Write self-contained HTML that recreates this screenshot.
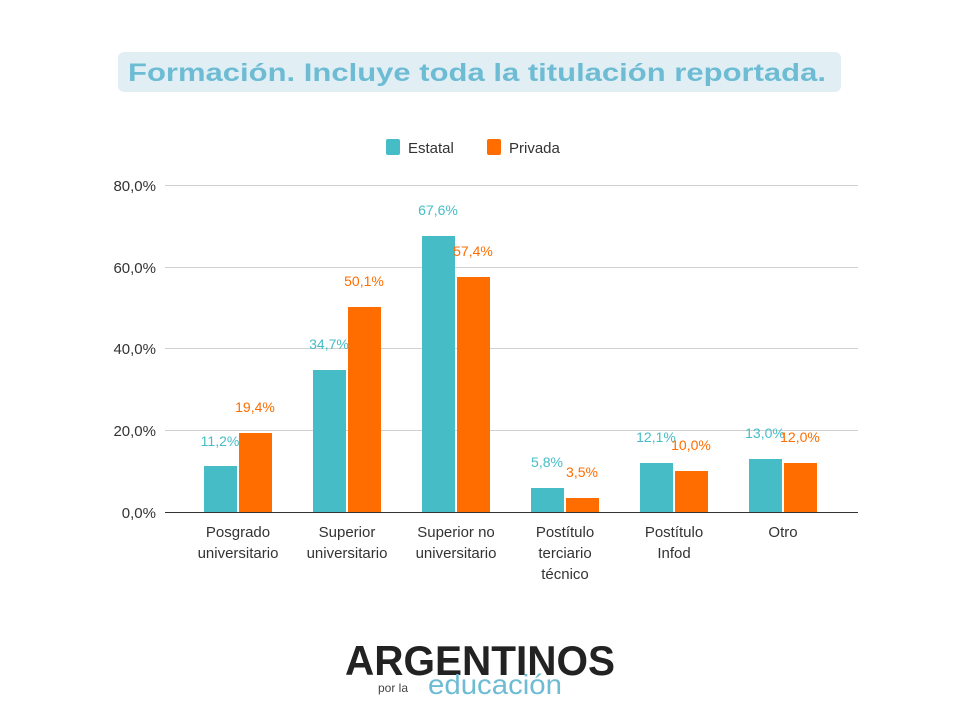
<!DOCTYPE html>
<html><head><meta charset="utf-8"><style>
body{margin:0;background:#fff;width:960px;height:720px;overflow:hidden;font-family:"Liberation Sans",sans-serif}
</style></head><body>
<svg width="960" height="720" xmlns="http://www.w3.org/2000/svg" font-family="Liberation Sans, sans-serif">
<rect x="118" y="52" width="723" height="40" rx="6" fill="#e1eff5"/>
<text x="128" y="81" font-size="25" font-weight="bold" fill="#6dbcd4" textLength="698" lengthAdjust="spacingAndGlyphs">Formación. Incluye toda la titulación reportada.</text>
<rect x="386" y="139" width="14" height="16" rx="2" fill="#46bdc6"/>
<text x="408" y="153" font-size="15" fill="#333">Estatal</text>
<rect x="487" y="139" width="14" height="16" rx="2" fill="#ff6d01"/>
<text x="509" y="153" font-size="15" fill="#333">Privada</text>
<g stroke="#d0d0d0" stroke-width="1">
<line x1="165" x2="858" y1="185.5" y2="185.5"/><line x1="165" x2="858" y1="267.5" y2="267.5"/><line x1="165" x2="858" y1="348.5" y2="348.5"/><line x1="165" x2="858" y1="430.5" y2="430.5"/>
</g>
<line x1="165" x2="858" y1="512.5" y2="512.5" stroke="#333"/>
<g font-size="15" fill="#333" text-anchor="end">
<text x="156" y="191">80,0%</text><text x="156" y="273">60,0%</text><text x="156" y="354">40,0%</text><text x="156" y="436">20,0%</text><text x="156" y="518">0,0%</text>
</g>
<g fill="#46bdc6">
<rect x="204" y="466" width="33" height="46"/>
<rect x="313" y="370" width="33" height="142"/>
<rect x="422" y="236" width="33" height="276"/>
<rect x="531" y="488" width="33" height="24"/>
<rect x="640" y="463" width="33" height="49"/>
<rect x="749" y="459" width="33" height="53"/>
</g>
<g fill="#ff6d01">
<rect x="239" y="433" width="33" height="79"/>
<rect x="348" y="307" width="33" height="205"/>
<rect x="457" y="277" width="33" height="235"/>
<rect x="566" y="498" width="33" height="14"/>
<rect x="675" y="471" width="33" height="41"/>
<rect x="784" y="463" width="33" height="49"/>
</g>
<g font-size="14" text-anchor="middle" fill="#46bdc6">
<text x="220" y="446">11,2%</text><text x="329" y="349">34,7%</text><text x="438" y="215">67,6%</text><text x="547" y="467">5,8%</text><text x="656" y="442">12,1%</text><text x="765" y="438">13,0%</text>
</g>
<g font-size="14" text-anchor="middle" fill="#ff6d01">
<text x="255" y="412">19,4%</text><text x="364" y="286">50,1%</text><text x="473" y="256">57,4%</text><text x="582" y="477">3,5%</text><text x="691" y="450">10,0%</text><text x="800" y="442">12,0%</text>
</g>
<g font-size="15" fill="#333" text-anchor="middle">
<text x="238" y="537">Posgrado</text><text x="238" y="558">universitario</text>
<text x="347" y="537">Superior</text><text x="347" y="558">universitario</text>
<text x="456" y="537">Superior no</text><text x="456" y="558">universitario</text>
<text x="565" y="537">Postítulo</text><text x="565" y="558">terciario</text><text x="565" y="579">técnico</text>
<text x="674" y="537">Postítulo</text><text x="674" y="558">Infod</text>
<text x="783" y="537">Otro</text>
</g>
<text x="345" y="675" font-size="42" font-weight="bold" fill="#222" textLength="270" lengthAdjust="spacingAndGlyphs">ARGENTINOS</text>
<text x="378" y="692" font-size="12" fill="#444">por la</text>
<text x="428" y="694" font-size="28" fill="#6dbcd4" textLength="134" lengthAdjust="spacingAndGlyphs">educación</text>
</svg>
</body></html>
